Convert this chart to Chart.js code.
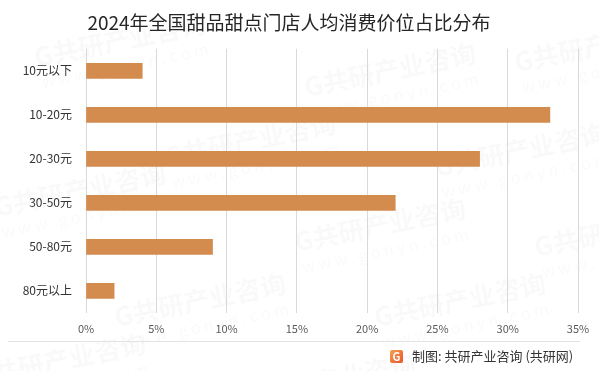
<!DOCTYPE html>
<html><head><meta charset="utf-8">
<script src="https://cdn.jsdelivr.net/npm/chart.js@4"></script>
<style>html,body{margin:0;padding:0;background:#fff}#wrap{width:599px;height:371px;position:relative}</style>
</head><body><div id="wrap"><canvas id="c" width="599" height="371"></canvas></div>
<script>
const categories = ['10元以下','10-20元','20-30元','30-50元','50-80元','80元以上'];
const shares = [4, 33, 28, 22, 9, 2];
const xTicks = [0,5,10,15,20,25,30,35];
const titleText = '2024年全国甜品甜点门店人均消费价位占比分布';
const footerText = '制图: 共研产业咨询 (共研网)';
const FONT = '"Microsoft YaHei","Noto Sans CJK SC","Noto Sans",sans-serif';

const decor = {
  id:'decor',
  beforeDraw(chart){
    const ctx = chart.ctx;
    ctx.save();
    ctx.fillStyle = '#fff'; ctx.fillRect(0,0,chart.width,chart.height);
    const marks = [[120,40],[390,70],[600,45],[250,140],[520,150],[80,190],[380,225],[620,230],[200,300],[460,300],[60,360],[330,380]];
    marks.forEach(([x,y])=>{
      ctx.save(); ctx.translate(x,y); ctx.rotate(-0.2);
      ctx.fillStyle='rgba(0,0,0,0.022)';
      ctx.font='bold 26px '+FONT; ctx.textAlign='center'; ctx.textBaseline='middle';
      ctx.fillText('G共研产业咨询',0,0);
      ctx.font='16px '+FONT;
      ctx.fillText('w w w . g o n y n . c o m',0,26);
      ctx.restore();
    });
    ctx.restore();
  },
  afterDraw(chart){
    const ctx = chart.ctx;
    ctx.save();
    ctx.strokeStyle='#e3e3e3'; ctx.lineWidth=1;
    ctx.beginPath(); ctx.moveTo(8,341.5); ctx.lineTo(580,341.5); ctx.stroke();
    const g = ctx.createLinearGradient(390,350,403,363);
    g.addColorStop(0,'#f6a04d'); g.addColorStop(1,'#e8542f');
    ctx.fillStyle=g;
    ctx.beginPath(); ctx.roundRect(390,350,13,13,2); ctx.fill();
    ctx.fillStyle='#fff'; ctx.font='bold 11px '+FONT; ctx.textAlign='center'; ctx.textBaseline='middle';
    ctx.fillText('G',396.5,357);
    ctx.fillStyle='#333'; ctx.font='13px '+FONT; ctx.textAlign='left';
    ctx.fillText(footerText,412,356.5);
    ctx.restore();
  }
};

new Chart(document.getElementById('c'),{
  type:'bar',
  data:{labels:categories,datasets:[{data:shares,backgroundColor:'#D48B4E',barThickness:15}]},
  options:{
    indexAxis:'y', responsive:false, animation:false,
    layout:{padding:{left:0,right:21,top:0,bottom:27}},
    plugins:{
      legend:{display:false}, tooltip:{enabled:false},
      title:{display:true,text:titleText,color:'#262626',font:{family:FONT,size:19,weight:'normal'},padding:{top:11,bottom:15}}
    },
    scales:{
      x:{min:0,max:35,afterBuildTicks(s){s.ticks=xTicks.map(v=>({value:v}));},
        grid:{color:'#d9d9d9',drawTicks:false},border:{display:false},
        ticks:{padding:9,color:'#595959',font:{family:FONT,size:11},callback:v=>v+'%'}},
      y:{grid:{display:false,drawTicks:false},border:{display:false},
        afterFit(s){s.width=86;},
        ticks:{padding:14,color:'#333',font:{family:FONT,size:12}}}
    }
  },
  plugins:[decor]
});
</script></body></html>
